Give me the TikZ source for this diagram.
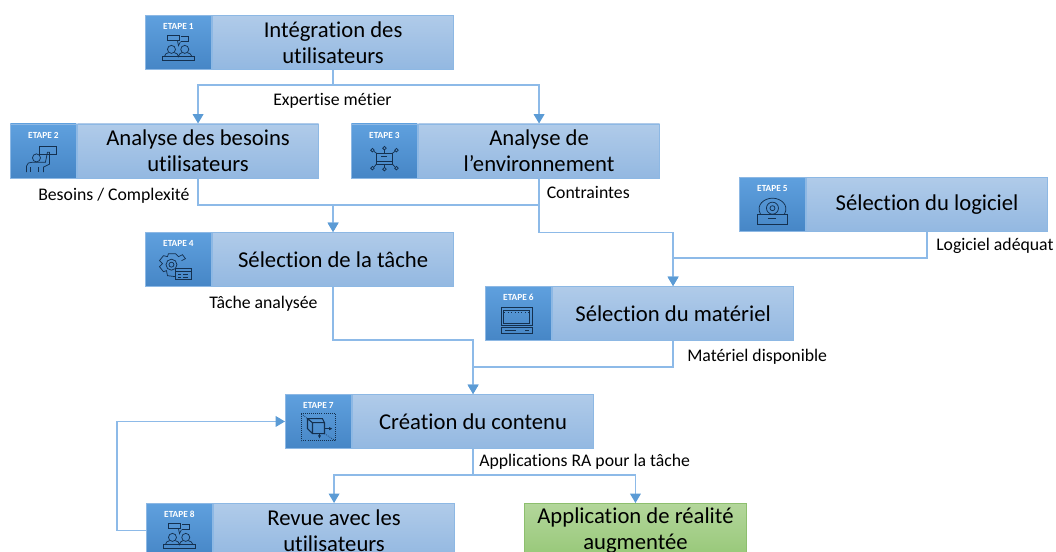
\documentclass[tikz,border=0pt]{standalone}
\usepackage{fontspec}
\setmainfont[Ligatures=NoCommon]{Carlito}
\usetikzlibrary{arrows.meta}
\definecolor{edge}{HTML}{8DBAE8}
\definecolor{tipcol}{HTML}{5B9BD5}
\definecolor{boxline}{HTML}{8DB8E4}
\definecolor{icon}{HTML}{14304F}
\definecolor{lefttop}{HTML}{5FA0DE}
\definecolor{leftbot}{HTML}{4686C6}
\definecolor{titletop}{HTML}{B0CBE9}
\definecolor{titlebot}{HTML}{93B8E1}
\definecolor{greentop}{HTML}{B3D69B}
\definecolor{greenbot}{HTML}{97C878}
\definecolor{greenline}{HTML}{8DBF6E}
\tikzset{
  leftbox/.style={rectangle,draw=boxline,line width=.7pt,top color=lefttop,bottom color=leftbot,inner sep=0pt,minimum width=49.5pt,minimum height=40.5pt,anchor=north west},
  titlebox/.style={rectangle,draw=boxline,line width=.7pt,top color=titletop,bottom color=titlebot,inner sep=0pt,minimum width=181pt,minimum height=40.5pt,anchor=north west,align=center,font=\fontsize{17}{19.5}\selectfont,text=black},
  greenbox/.style={rectangle,draw=greenline,line width=.7pt,top color=greentop,bottom color=greenbot,inner sep=0pt,minimum width=166.5pt,minimum height=40.5pt,anchor=north west,align=center,font=\fontsize{17}{19.5}\selectfont,text=black},
  steplabel/.style={text=white,font=\fontsize{7}{8}\selectfont\bfseries,inner sep=0pt},
  lab/.style={font=\fontsize{13.3}{15}\selectfont,text=black,inner sep=0pt,anchor=west},
  conn/.style={draw=edge,line width=1pt},
  arr/.style={conn,-{Triangle[length=7pt,width=8pt,color=tipcol]}},
  ico/.style={draw=icon,line width=.55pt},
  people/.pic={
    \draw[ico] (-7,1.7) circle (4) (6.3,1.7) circle (4);
    \draw[ico] (-14,9) .. controls (-14,6) and (-12,6) .. (-10,5) (-4,5) .. controls (-2,6) and (0,6) .. (0,9) .. controls (0,6) and (2,6) .. (3.5,5) (9,5) .. controls (11,6) and (13,6) .. (13.5,9);
    \draw[ico] (-16.3,9) rectangle (16.3,12.3);
    \draw[ico] (-10.7,-12.7) rectangle (1.3,-7) (2.7,-11.7) -- (9.7,-11.7) -- (9.7,-6) -- (2.7,-6);
    \draw[ico] (-1,-7) -- (0,-2) -- (2,-6);
  },
  presenter/.pic={
    \draw[ico] (-4,-10) rectangle (13,-1.7);
    \draw[ico] (-7,1.7) circle (4);
    \draw[ico] (-17,16) -- (-17,10) .. controls (-17,7) and (-14,6) .. (-11,6) -- (2,6) -- (4,-4) -- (6,-4) -- (6,8) -- (0,11) -- (0,16);
    \draw[ico] (-13,11) -- (-13,16) (-5,11) -- (-5,16);
  },
  network/.pic={
    \draw[ico] (-8,-3) rectangle (8,8);
    \draw[ico] (-3,0) -- (3,0) (-8,5) -- (8,5);
    \foreach \a/\b in {-12/-6,0/-8,12/-6,-12/12,0/13,12/12}{\draw[ico] (\a,\b) circle (1.8);}
    \draw[ico] (-10.5,-4.8) -- (-8,-3) (0,-6.2) -- (0,-3) (10.5,-4.8) -- (8,-3) (-10.5,10.8) -- (-8,8) (0,8) -- (0,11.2) (10.5,10.8) -- (8,8);
  },
  gearwin/.pic={
    \draw[ico] (-7,0) circle (2.5) (-7,0) circle (5.5);
    \draw[ico] (3,-4) -- (7,-6) -- (4,-10) -- (0,-8) -- (-3,-11) -- (-10,-11) -- (-11,-8) -- (-15,-9) -- (-19,-4) -- (-16,-1) -- (-19,2) -- (-15,7) -- (-12,6) -- (-11,11) -- (-3,12);
    \draw[ico] (-3,4) rectangle (13,15);
    \draw[ico] (-3,6.5) -- (13,6.5) (0,9.5) -- (3,9.5) (5,9.5) -- (10,9.5) (0,12.5) -- (3,12.5) (5,12.5) -- (10,12.5);
  },
  disc/.pic={
    \draw[ico] (-12,4.5) .. controls (-17,-5) and (-8,-11.5) .. (0,-11.5) .. controls (8,-11.5) and (17,-5) .. (12,4.5);
    \draw[ico] (0,-1.5) circle (6) (0,-1.5) circle (2.5);
    \draw[ico] (-15,4.5) rectangle (15,14.5);
    \draw[ico,line width=.8pt] (-4,9) -- (4,9);
  },
  laptop/.pic={
    \draw[ico,line width=.8pt] (-17,-11) rectangle (14,7);
    \draw[ico] (-15,-8) rectangle (11,5);
    \draw[ico,dotted] (-14,-6.5) -- (10,-6.5);
    \draw[ico] (-17,9) rectangle (14,15);
    \draw[ico] (-13,12) -- (-2,12) (7,12) -- (11,12);
  },
  cube/.pic={
    \draw[ico,densely dotted] (-17,-13) rectangle (17,14);
    \draw[ico,densely dotted] (-17,-13) -- (-11,-8) (17,14) -- (6,7);
    \draw[ico,line width=.8pt] (-11,-8) -- (4,-8) -- (6,-4) -- (6,7) -- (-6,7) -- (-11,2) -- cycle (-11,-8) -- (-6,-4) -- (6,-4) (-6,-4) -- (-6,7);
    \draw[ico,-{Latex[length=2.5pt,width=2.5pt]}] (6,2) -- (14,2);
    \draw[ico,-{Latex[length=2.5pt,width=2.5pt]}] (1,7) -- (1,12);
  },
}
% id, x, y, title, icon
\newcommand{\etape}[5]{%
  \node[leftbox] (i#1) at (#2,#3) {};
  \node[titlebox] (t#1) at (i#1.north east) {#4};
  \node[steplabel] (l#1) at ([yshift=-8.6pt]i#1.north) {ETAPE #1};
  \pic at ([yshift=-24.5pt]i#1.north) {#5};
}
\begin{document}
\begin{tikzpicture}[x=.75pt,y=-.75pt]
\clip (0,0) rectangle (1056,551);
\etape{1}{145}{15}{Intégration des\\utilisateurs}{people}
\etape{2}{10}{123.5}{Analyse des besoins\\utilisateurs}{presenter}
\etape{3}{351}{123.5}{Analyse de\\l’environnement}{network}
\etape{4}{145}{232}{Sélection de la tâche}{gearwin}
\etape{5}{739}{177}{Sélection du logiciel}{disc}
\etape{6}{485}{286}{Sélection du matériel}{laptop}
\etape{7}{285}{394}{Création du contenu}{cube}
\etape{8}{146}{503}{Revue avec les\\utilisateurs}{people}
\node[greenbox] (app) at (524,503) {Application de réalité\\augmentée};
% connectors
\coordinate (c1) at (0,85);
\draw[arr] (t1.south) |- (c1 -| t2.north) -- (t2.north);
\draw[arr] (t1.south) |- (c1 -| t3.north) -- (t3.north);
\coordinate (c2) at (0,205);
\draw[arr] (t2.south) |- (c2 -| t4.north) -- (t4.north);
\draw[arr] (t3.south) |- (c2 -| t4.north) -- (t4.north);
\coordinate (c3) at (0,232.5);
\draw[arr] (t3.south) |- (c3 -| t6.north) -- (t6.north);
\coordinate (c5) at (0,258);
\draw[arr] (t5.south) |- (c5 -| t6.north) -- (t6.north);
\coordinate (c4) at (0,340);
\draw[arr] (t4.south) |- (c4 -| t7.north) -- (t7.north);
\coordinate (c6) at (0,367);
\draw[arr] (t6.south) |- (c6 -| t7.north) -- (t7.north);
\coordinate (c7) at (0,475);
\draw[arr] (t7.south) |- (c7 -| t8.north) -- (t8.north);
\draw[arr] (t7.south) |- (c7 -| app.north) -- (app.north);
\coordinate (c8) at (117,0);
\draw[arr] (i8.west) -| (c8 |- i7.west) -- (i7.west);
% labels
\node[lab] (n1) at (273,100.5) {Expertise métier};
\node[lab] (n2) at (38,195.5) {Besoins / Complexité};
\node[lab] (n3) at (546.5,192.5) {Contraintes};
\node[lab] (n4) at (936,245.5) {Logiciel adéquat};
\node[lab] (n5) at (209,303.5) {Tâche analysée};
\node[lab] (n6) at (687,356.5) {Matériel disponible};
\node[lab] (n7) at (479,461.5) {Applications RA pour la tâche};
\end{tikzpicture}
\end{document}
